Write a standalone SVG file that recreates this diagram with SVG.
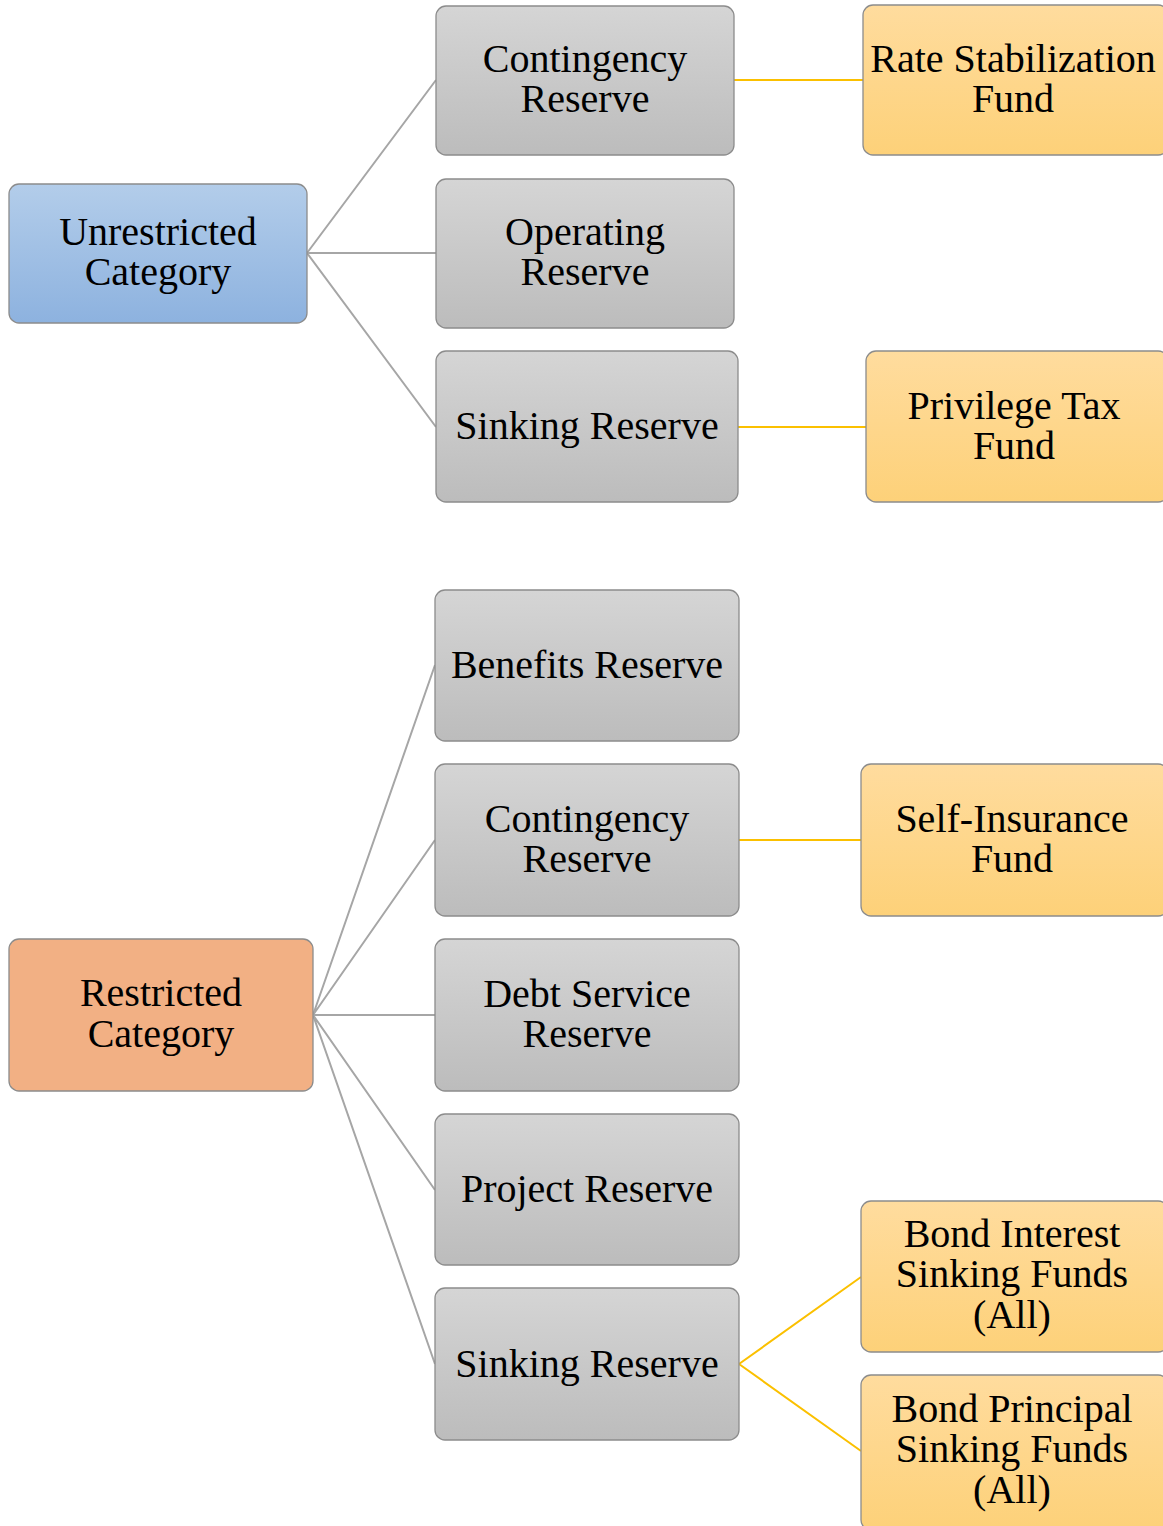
<svg xmlns="http://www.w3.org/2000/svg" width="1163" height="1526" viewBox="0 0 1163 1526">
<defs>
<linearGradient id="gBlue" x1="0" y1="0" x2="0" y2="1"><stop offset="0" stop-color="#b3cdea"/><stop offset="1" stop-color="#8db2df"/></linearGradient>
<linearGradient id="gGray" x1="0" y1="0" x2="0" y2="1"><stop offset="0" stop-color="#d5d5d5"/><stop offset="1" stop-color="#bcbcbc"/></linearGradient>
<linearGradient id="gYel" x1="0" y1="0" x2="0" y2="1"><stop offset="0" stop-color="#ffdc9e"/><stop offset="1" stop-color="#fdd179"/></linearGradient>
</defs>
<style>
rect{stroke:#8c8c8c;stroke-width:1.3}
.blue{fill:url(#gBlue)}
.gray{fill:url(#gGray)}
.yel{fill:url(#gYel)}
.org{fill:#f2b084}
text{font-size:40px;fill:#000;text-anchor:middle}
.cg{stroke:#a6a6a6;stroke-width:2;fill:none}
.cy{stroke:#fbc000;stroke-width:2;fill:none}
</style>
<g id="connectors">
<path class="cg" d="M307,253 L436,80 M307,253 L436,253 M307,253 L436,427"/>
<path class="cg" d="M313,1015 L435,665 M313,1015 L435,840 M313,1015 L435,1015 M313,1015 L435,1190 M313,1015 L435,1364"/>
<path class="cy" d="M734,80 L863,80 M738,427 L866,427 M739,840 L861,840 M739,1364 L861,1277 M739,1364 L861,1451"/>
</g>
<g id="unrestricted"><rect class="blue" x="9" y="184" width="298" height="139" rx="10"/><text font-family="Liberation Serif, serif" x="158" y="245">Unrestricted</text><text font-family="Liberation Serif, serif" x="158" y="285">Category</text></g>
<g id="u-contingency"><rect class="gray" x="436" y="6" width="298" height="149" rx="10"/><text font-family="Liberation Serif, serif" x="585" y="72">Contingency</text><text font-family="Liberation Serif, serif" x="585" y="112">Reserve</text></g>
<g id="u-operating"><rect class="gray" x="436" y="179" width="298" height="149" rx="10"/><text font-family="Liberation Serif, serif" x="585" y="245">Operating</text><text font-family="Liberation Serif, serif" x="585" y="285">Reserve</text></g>
<g id="u-sinking"><rect class="gray" x="436" y="351" width="302" height="151" rx="10"/><text font-family="Liberation Serif, serif" x="587" y="439">Sinking Reserve</text></g>
<g id="rate-stab"><rect class="yel" x="863" y="5" width="305" height="150" rx="10"/><text font-family="Liberation Serif, serif" x="1013" y="72">Rate Stabilization</text><text font-family="Liberation Serif, serif" x="1013" y="112">Fund</text></g>
<g id="privilege"><rect class="yel" x="866" y="351" width="302" height="151" rx="10"/><text font-family="Liberation Serif, serif" x="1014" y="419">Privilege Tax</text><text font-family="Liberation Serif, serif" x="1014" y="459">Fund</text></g>
<g id="restricted"><rect class="org" x="9" y="939" width="304" height="152" rx="10"/><text font-family="Liberation Serif, serif" x="161" y="1006">Restricted</text><text font-family="Liberation Serif, serif" x="161" y="1047">Category</text></g>
<g id="benefits"><rect class="gray" x="435" y="590" width="304" height="151" rx="10"/><text font-family="Liberation Serif, serif" x="587" y="678">Benefits Reserve</text></g>
<g id="r-contingency"><rect class="gray" x="435" y="764" width="304" height="152" rx="10"/><text font-family="Liberation Serif, serif" x="587" y="832">Contingency</text><text font-family="Liberation Serif, serif" x="587" y="872">Reserve</text></g>
<g id="debt"><rect class="gray" x="435" y="939" width="304" height="152" rx="10"/><text font-family="Liberation Serif, serif" x="587" y="1007">Debt Service</text><text font-family="Liberation Serif, serif" x="587" y="1047">Reserve</text></g>
<g id="project"><rect class="gray" x="435" y="1114" width="304" height="151" rx="10"/><text font-family="Liberation Serif, serif" x="587" y="1202">Project Reserve</text></g>
<g id="r-sinking"><rect class="gray" x="435" y="1288" width="304" height="152" rx="10"/><text font-family="Liberation Serif, serif" x="587" y="1377">Sinking Reserve</text></g>
<g id="self-ins"><rect class="yel" x="861" y="764" width="307" height="152" rx="10"/><text font-family="Liberation Serif, serif" x="1012" y="832">Self-Insurance</text><text font-family="Liberation Serif, serif" x="1012" y="872">Fund</text></g>
<g id="bond-interest"><rect class="yel" x="861" y="1201" width="307" height="151" rx="10"/><text font-family="Liberation Serif, serif" x="1012" y="1247">Bond Interest</text><text font-family="Liberation Serif, serif" x="1012" y="1287">Sinking Funds</text><text font-family="Liberation Serif, serif" x="1012" y="1328">(All)</text></g>
<g id="bond-principal"><rect class="yel" x="861" y="1375" width="307" height="155" rx="10"/><text font-family="Liberation Serif, serif" x="1012" y="1422">Bond Principal</text><text font-family="Liberation Serif, serif" x="1012" y="1462">Sinking Funds</text><text font-family="Liberation Serif, serif" x="1012" y="1503">(All)</text></g>
</svg>
